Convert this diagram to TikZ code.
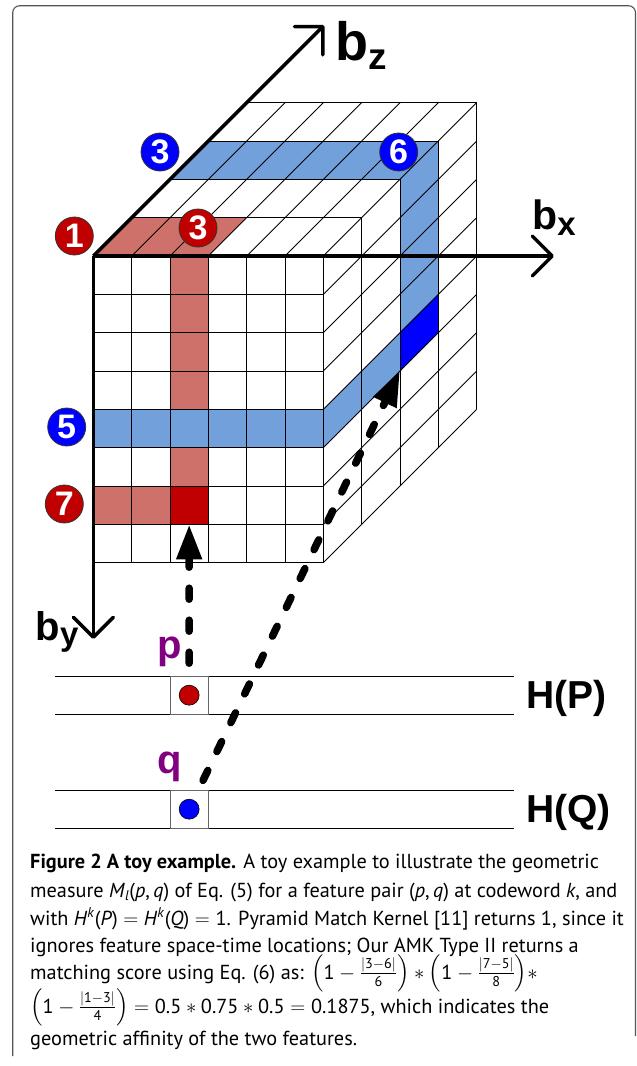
\documentclass[tikz,border=0pt]{standalone}
\usepackage{amsmath}
\usepackage{fontspec}
\setmainfont{PT Sans}
\newfontfamily\lab{Liberation Sans}
\usetikzlibrary{arrows.meta}
\definecolor{salmon}{RGB}{205,113,106}
\definecolor{lblue}{RGB}{114,160,219}
\definecolor{dred}{RGB}{192,0,0}
\definecolor{bblue}{RGB}{0,0,255}
\definecolor{ppurple}{RGB}{128,0,128}
\definecolor{framegray}{RGB}{85,85,85}
\newcommand\tx[1]{\text{#1}}
\begin{document}
\begin{tikzpicture}[x=1pt,y=-1pt,
  gridl/.style={line width=0.9pt, black},
  axisline/.style={line width=3.5pt, -{Straight Barb[length=20pt,width=40pt,round]}},
  dasharrow/.style={line width=7.5pt, line cap=round, dash pattern=on 11pt off 21pt, -{Triangle[length=35pt,width=24pt]}},
  numcirc/.style={circle, draw=black!80, line width=0.8pt, minimum size=38pt, inner sep=0pt, text=white, font=\lab\bfseries\fontsize{34}{34}\selectfont},
  redc/.style={numcirc, fill=dred},
  bluec/.style={numcirc, fill=bblue},
  axlab/.style={inner sep=0pt, anchor=base west, font=\lab\bfseries},
  ptlab/.style={inner sep=0pt, anchor=base west, text=ppurple, font=\lab\bfseries\fontsize{40}{40}\selectfont},
  hlab/.style={inner sep=0pt, anchor=base west, font=\lab\bfseries\fontsize{39}{39}\selectfont},
  barline/.style={line width=0.9pt, black},
  cellbox/.style={draw=black!60, fill=white, line width=0.9pt, minimum size=38.33pt, inner sep=0pt},
  featdot/.style={circle, draw=black, line width=0.6pt, minimum size=20pt, inner sep=0pt},
  capline/.style={inner sep=0pt, anchor=base west, font=\fontsize{20.3}{29}\selectfont},
  framel/.style={draw=framegray, line width=1.1pt, rounded corners=7pt}
]
\useasboundingbox (0,0) rectangle (637,1066);
\fill[white] (0,0) rectangle (637,1066);
% frame
\draw[framel] (12.7,1056) -- (12.7,5.7) -- (635.5,5.7) -- (635.5,1036);

% cube
\begin{scope}[shift={(93.333,256)}, x={(38.333pt,0pt)}, y={(0pt,-38.333pt)}, z={(38.333pt,38.333pt)}]
  % red strips
  \fill[salmon] (0,0,0) -- (3,0,0) -- (3,0,1) -- (0,0,1) -- cycle;
  \fill[salmon] (2,0,0) -- (3,0,0) -- (3,6,0) -- (2,6,0) -- cycle;
  \fill[salmon] (0,6,0) -- (2,6,0) -- (2,7,0) -- (0,7,0) -- cycle;
  \fill[dred] (2,6,0) -- (3,6,0) -- (3,7,0) -- (2,7,0) -- cycle;
  % blue strips
  \fill[lblue] (0,0,2) -- (6,0,2) -- (6,0,3) -- (0,0,3) -- cycle;
  \fill[lblue] (6,0,2) -- (6,0,3) -- (6,4,3) -- (6,4,2) -- cycle;
  \fill[lblue] (6,4,0) -- (6,4,2) -- (6,5,2) -- (6,5,0) -- cycle;
  \fill[lblue] (0,4,0) -- (6,4,0) -- (6,5,0) -- (0,5,0) -- cycle;
  \fill[bblue] (6,4,2) -- (6,4,3) -- (6,5,3) -- (6,5,2) -- cycle;
  % grid: front
  \foreach \i in {0,...,6} \draw[gridl] (\i,0,0) -- (\i,8,0);
  \foreach \j in {0,...,8} \draw[gridl] (0,\j,0) -- (6,\j,0);
  % grid: top
  \foreach \d in {1,...,4} \draw[gridl] (0,0,\d) -- (6,0,\d);
  \foreach \i in {1,...,6} \draw[gridl] (\i,0,0) -- (\i,0,4);
  % grid: right
  \foreach \d in {1,...,4} \draw[gridl] (6,0,\d) -- (6,8,\d);
  \foreach \j in {1,...,8} \draw[gridl] (6,\j,0) -- (6,\j,4);
  \coordinate (O) at (0,0,0);
  \coordinate (qtip) at (6,5,2);
  \coordinate (ptip) at (2.5,7,0);
\end{scope}

% axes
\coordinate (xend) at (554,256);
\coordinate (zend) at (324,25.3);
\coordinate (yend) at (93.333,639);
\draw[axisline] (O) -- (xend);
\draw[axisline] (O) -- (zend);
\draw[axisline] (O) -- (yend);

\node[axlab] (bz) at (335,60.7) {\fontsize{54}{54}\selectfont b\raisebox{-8.6pt}{\fontsize{37}{37}\selectfont z}};
\node[axlab] (bx) at (532,229) {\fontsize{41}{41}\selectfont b\raisebox{-6pt}{\fontsize{33}{33}\selectfont x}};
\node[axlab] (by) at (35.5,640) {\fontsize{40}{40}\selectfont b\raisebox{-5pt}{\fontsize{33}{33}\selectfont y}};

% feature bars
\coordinate (pc) at (189.17,695.2);
\coordinate (qc) at (189.17,809.2);
\draw[dasharrow] (pc) -- (ptip);
\draw[dasharrow] (qc) -- (qtip);

\draw[barline] (55,676) -- (514,676);
\draw[barline] (55,714.3) -- (514,714.3);
\draw[barline] (55,790) -- (514,790);
\draw[barline] (55,828.3) -- (514,828.3);
\node[cellbox] (boxP) at (pc) {};
\node[cellbox] (boxQ) at (qc) {};
\node[featdot, fill=dred] (dotP) at (pc) {};
\node[featdot, fill=bblue] (dotQ) at (qc) {};

\node[ptlab] (plab) at (157.5,658) {p};
\node[ptlab] (qlab) at (157,773) {q};
\node[hlab] (hp) at (526,708) {H(P)};
\node[hlab] (hq) at (526,822) {H(Q)};

% number circles
\node[redc] (c1) at (74.3,236) {1};
\node[redc] (c3r) at (198,228) {3};
\node[bluec] (c3b) at (160,152) {3};
\node[bluec] (c6) at (398.7,152) {6};
\node[bluec] (c5) at (66.7,427) {5};
\node[redc] (c7) at (64.3,504) {7};

% caption
\node[capline] (cap1) at (30,868) {\textbf{Figure 2 A toy example.} A toy example to illustrate the geometric};
\node[capline] (cap2) at (30,897) {measure \textit{M}\textsubscript{\textit{l}}(\textit{p},\,\textit{q}) of Eq. (5) for a feature pair (\textit{p},\,\textit{q}) at codeword \textit{k}, and};
\node[capline] (cap3) at (30,925.5) {with \textit{H}\textsuperscript{\textit{k}}(\textit{P})\;$=$\;\textit{H}\textsuperscript{\textit{k}}(\textit{Q})\;$=$\;1. Pyramid Match Kernel [11] returns 1, since it};
\node[capline] (cap4) at (30,952) {ignores feature space-time locations; Our AMK Type II returns a};
\node[capline] (cap5) at (30,979) {matching score using Eq. (6) as: $\Bigl(\tx{1}-\frac{|\tx{3}-\tx{6}|}{\tx{6}}\Bigr)\ast\Bigl(\tx{1}-\frac{|\tx{7}-\tx{5}|}{\tx{8}}\Bigr)\ast$};
\node[capline] (cap6) at (30,1013) {$\Bigl(\tx{1}-\frac{|\tx{1}-\tx{3}|}{\tx{4}}\Bigr)=\tx{0.5}\ast\tx{0.75}\ast\tx{0.5}=\tx{0.1875}$, which indicates the};
\node[capline] (cap7) at (30,1045) {geometric affinity of the two features.};
\end{tikzpicture}
\end{document}
